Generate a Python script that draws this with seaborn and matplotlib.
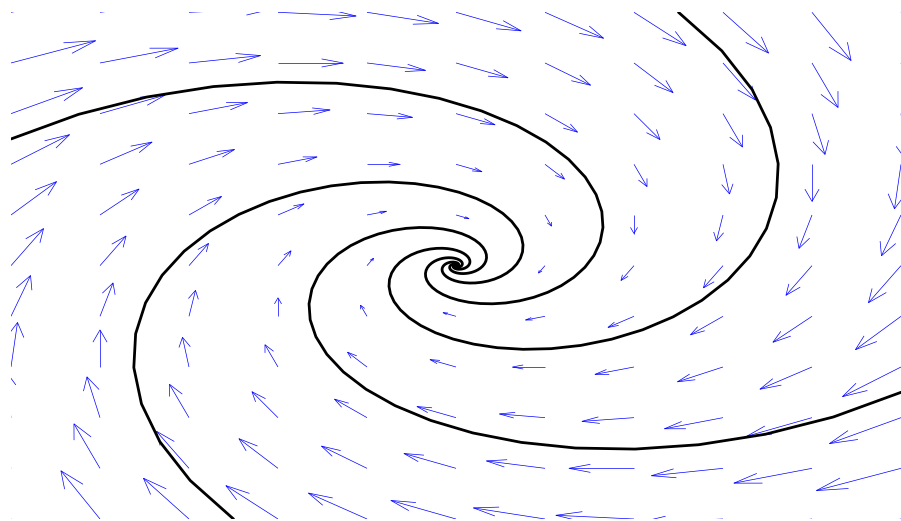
import numpy as np
import pandas as pd
import matplotlib
matplotlib.use("Agg")
import matplotlib.pyplot as plt
from matplotlib.collections import LineCollection
import seaborn as sns

# Linear system  x' = A x  (stable spiral)
A11, A12 = -0.5, 1.0
A21, A22 = -1.0, -0.5

# Direction-field grid
X_GRID = [-5, -4, -3, -2, -1, 0, 1, 2, 3, 4, 5]
Y_GRID = [-5, -4, -3, -2, -1, 0, 1, 2, 3, 4, 5]

# Initial conditions of the plotted trajectories
X0 = [-5.0, 5.0, -2.5, 2.5]
Y0 = [2.5, -2.5, -5.0, 5.0]

sns.set_style("white")

A = np.array([[A11, A12], [A21, A22]])
gx, gy = np.meshgrid(np.array(X_GRID, float), np.array(Y_GRID, float))
u = A11 * gx + A12 * gy
v = A21 * gx + A22 * gy

# quiver-style autoscale: longest arrow is 0.9 of a grid cell
nrow, ncol = gx.shape
delx = (gx.max() - gx.min()) / ncol
dely = (gy.max() - gy.min()) / nrow
maxlen = np.sqrt((u ** 2 + v ** 2) / (delx ** 2 + dely ** 2)).max()
s = 0.9 / maxlen
u, v = u * s, v * s

# shafts plus open two-line heads
alpha = beta = 0.33
segs = []
for x, y, du, dv in zip(gx.ravel(), gy.ravel(), u.ravel(), v.ravel()):
    tip = (x + du, y + dv)
    segs.append([(x, y), tip])
    b1 = (x + du - alpha * (du + beta * dv), y + dv - alpha * (dv - beta * du))
    b2 = (x + du - alpha * (du - beta * dv), y + dv - alpha * (dv + beta * du))
    segs.append([b1, tip, b2])

# Trajectories from the eigen-decomposition of A
w, V = np.linalg.eig(A)
Vinv = np.linalg.inv(V)
t = np.arange(0.0, 20.0, 0.15)
frames = []
for k, (x0, y0) in enumerate(zip(X0, Y0)):
    c = Vinv @ np.array([x0, y0], dtype=complex)
    path = (V @ (c[:, None] * np.exp(np.outer(w, t)))).real
    frames.append(pd.DataFrame({"x": path[0], "y": path[1], "traj": k}))
traj = pd.concat(frames, ignore_index=True)

fig = plt.figure(figsize=(9.01, 5.21), dpi=100)
ax = fig.add_axes([11 / 901, 2 / 521, 890 / 901, 506.7 / 521])

ax.add_collection(LineCollection(segs, colors="blue", linewidths=0.5,
                                 capstyle="butt", joinstyle="miter"))
sns.lineplot(data=traj, x="x", y="y", units="traj", estimator=None,
             sort=False, color="black", linewidth=2.0, legend=False, ax=ax)

ax.set_xlim(-5, 5)
ax.set_ylim(-5, 5)
ax.axis("off")

fig.savefig("out.png", dpi=100)
